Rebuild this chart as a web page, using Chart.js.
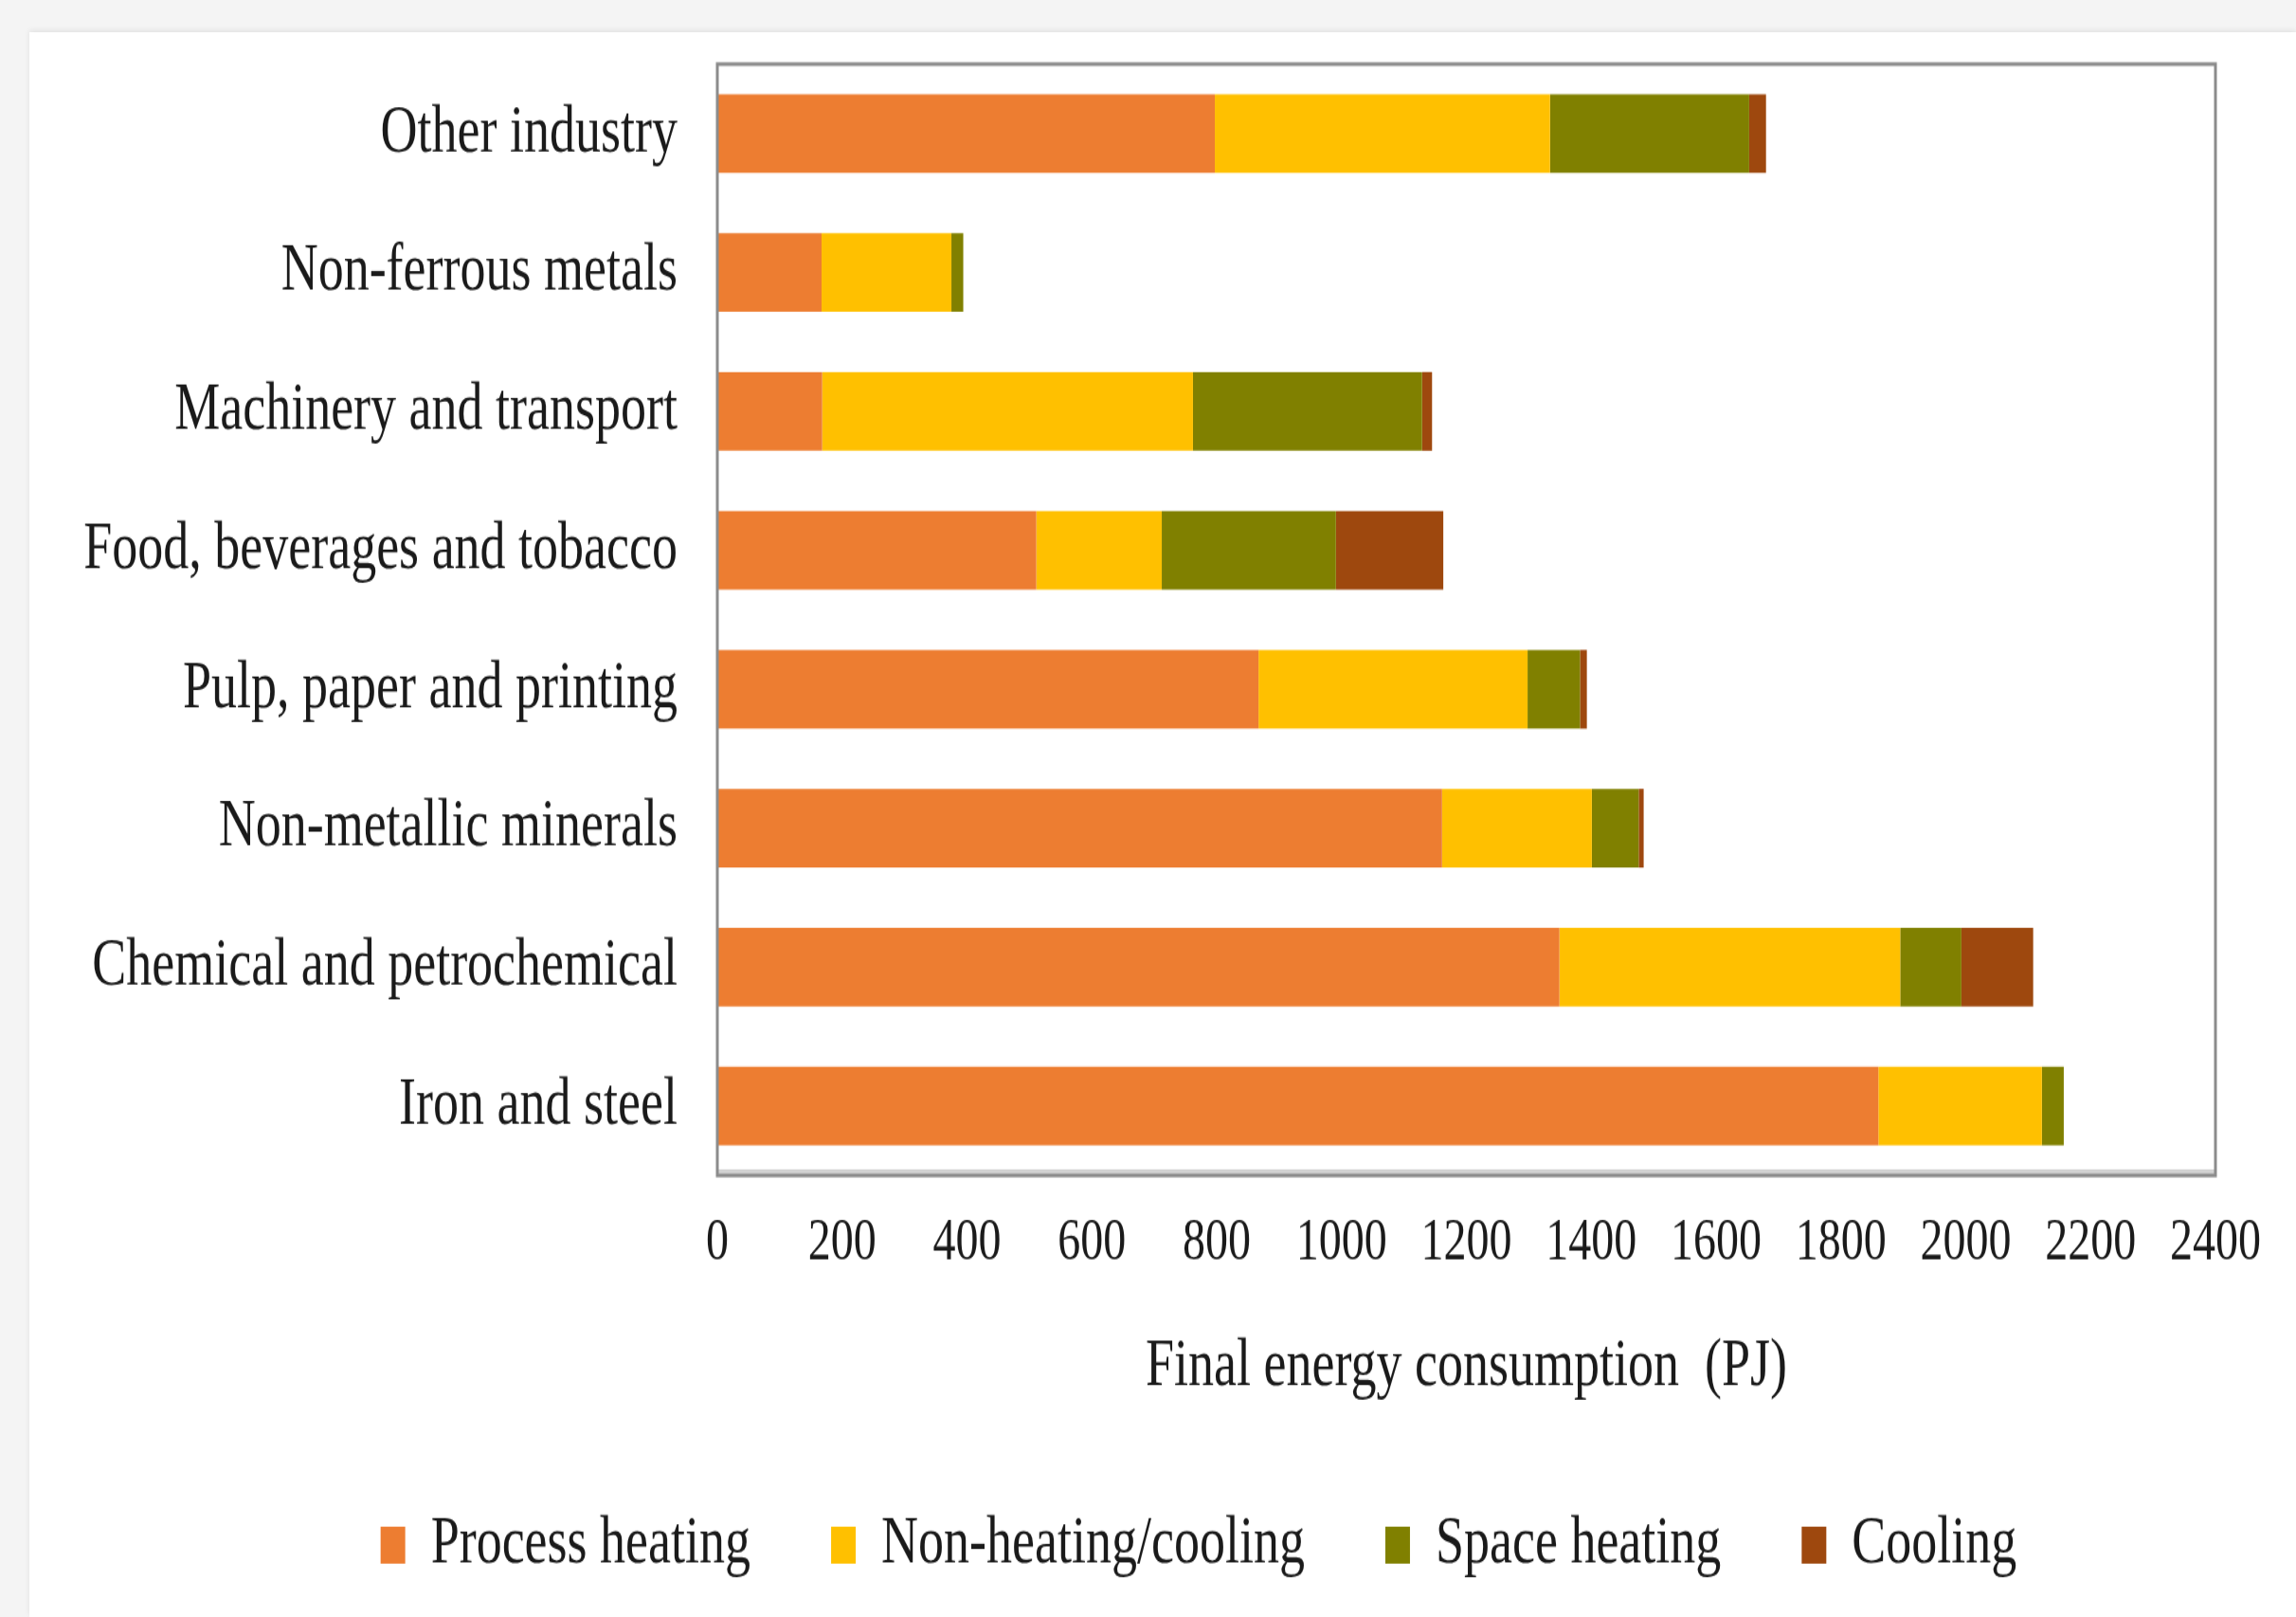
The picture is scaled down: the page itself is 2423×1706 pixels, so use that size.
<!DOCTYPE html>
<html>
<head>
<meta charset="utf-8">
<script src="https://cdn.jsdelivr.net/npm/chart.js@4.4.1/dist/chart.umd.min.js"></script>
<style>
  html, body { margin: 0; padding: 0; background: #f4f4f4; }
  body { width: 2423px; height: 1706px; position: relative; overflow: hidden; }
  #card {
    position: absolute; left: 31px; top: 34px; right: 0; bottom: 0;
    background: #fff; box-shadow: 0 -2px 6px rgba(0,0,0,0.08);
  }
  /* the source picture is stretched vertically, so the whole chart is too */
  #wrap {
    position: absolute; left: 0; top: 0; width: 2423px; height: 1312px;
    transform: scaleY(1.3); transform-origin: 0 0;
  }
</style>
</head>
<body>
<div id="card"></div>
<div id="wrap"><canvas id="energyChart"></canvas></div>
<script>
const sectors = [
  'Other industry',
  'Non-ferrous metals',
  'Machinery and transport',
  'Food, beverages and tobacco',
  'Pulp, paper and printing',
  'Non-metallic minerals',
  'Chemical and petrochemical',
  'Iron and steel'
];
const processHeating = [797, 167, 168, 511, 867, 1161, 1349, 1860];
const nonHeatingCooling = [537, 208, 594, 201, 431, 240, 546, 262];
const spaceHeating = [319, 19, 367, 279, 84, 75, 98, 35];
const cooling = [27, 0, 16, 172, 11, 8, 115, 0];

const serif = 'Liberation Serif';

// grey frame round the plot area, like the original
const plotFrame = {
  id: 'plotFrame',
  afterDatasetsDraw(chart) {
    const a = chart.chartArea;
    const ctx = chart.ctx;
    ctx.save();
    ctx.fillStyle = '#d2d2d2';
    ctx.fillRect(a.left, a.bottom - 5, a.right - a.left, 5);
    ctx.strokeStyle = '#8c8c8c';
    ctx.lineWidth = 3;
    ctx.strokeRect(a.left, a.top, a.right - a.left, a.bottom - a.top);
    ctx.restore();
  }
};

// the legend in the original sits a bit right of the canvas centre
const legendShift = {
  id: 'legendShift',
  afterLayout(chart) {
    chart.legend.left += 96;
    chart.legend.right += 96;
  }
};

const ctx = document.getElementById('energyChart');

new Chart(ctx, {
  type: 'bar',
  data: {
    labels: sectors,
    datasets: [
      { label: 'Process heating', data: processHeating, backgroundColor: '#ED7D31' },
      { label: 'Non-heating/cooling', data: nonHeatingCooling, backgroundColor: '#FFC000' },
      { label: 'Space heating', data: spaceHeating, backgroundColor: '#808000' },
      { label: 'Cooling', data: cooling, backgroundColor: '#9E480E' }
    ]
  },
  options: {
    indexAxis: 'y',
    responsive: true,
    maintainAspectRatio: false,
    animation: false,
    datasets: {
      bar: {
        barPercentage: 0.567,
        categoryPercentage: 1,
        borderWidth: 0
      }
    },
    layout: {
      padding: { top: 52, left: 0, right: 85, bottom: 21 }
    },
    scales: {
      x: {
        stacked: true,
        min: 0,
        max: 2400,
        grid: { display: false },
        border: { display: false },
        ticks: {
          stepSize: 200,
          padding: 19,
          color: '#1a1a1a',
          font: { family: serif, size: 48 },
          callback: function(value) {
            return String(value);
          }
        },
        title: {
          display: true,
          text: 'Final energy consumption  (PJ)',
          color: '#1a1a1a',
          font: { family: serif, size: 54 },
          padding: { top: 0, bottom: 0 }
        },
        afterFit: function(scale) {
          scale.height = 188;
        }
      },
      y: {
        stacked: true,
        grid: { display: false },
        border: { display: false },
        ticks: {
          padding: 34,
          color: '#1a1a1a',
          font: { family: serif, size: 54 }
        },
        afterFit: function(scale) {
          scale.width = 757;
          scale.paddingTop = 0;
          scale.paddingBottom = 0;
        }
      }
    },
    plugins: {
      legend: {
        position: 'bottom',
        labels: {
          boxWidth: 26,
          boxHeight: 30,
          padding: 85,
          color: '#1a1a1a',
          font: { family: serif, size: 54 }
        }
      },
      tooltip: { enabled: false }
    }
  },
  plugins: [plotFrame, legendShift]
});
</script>
</body>
</html>
